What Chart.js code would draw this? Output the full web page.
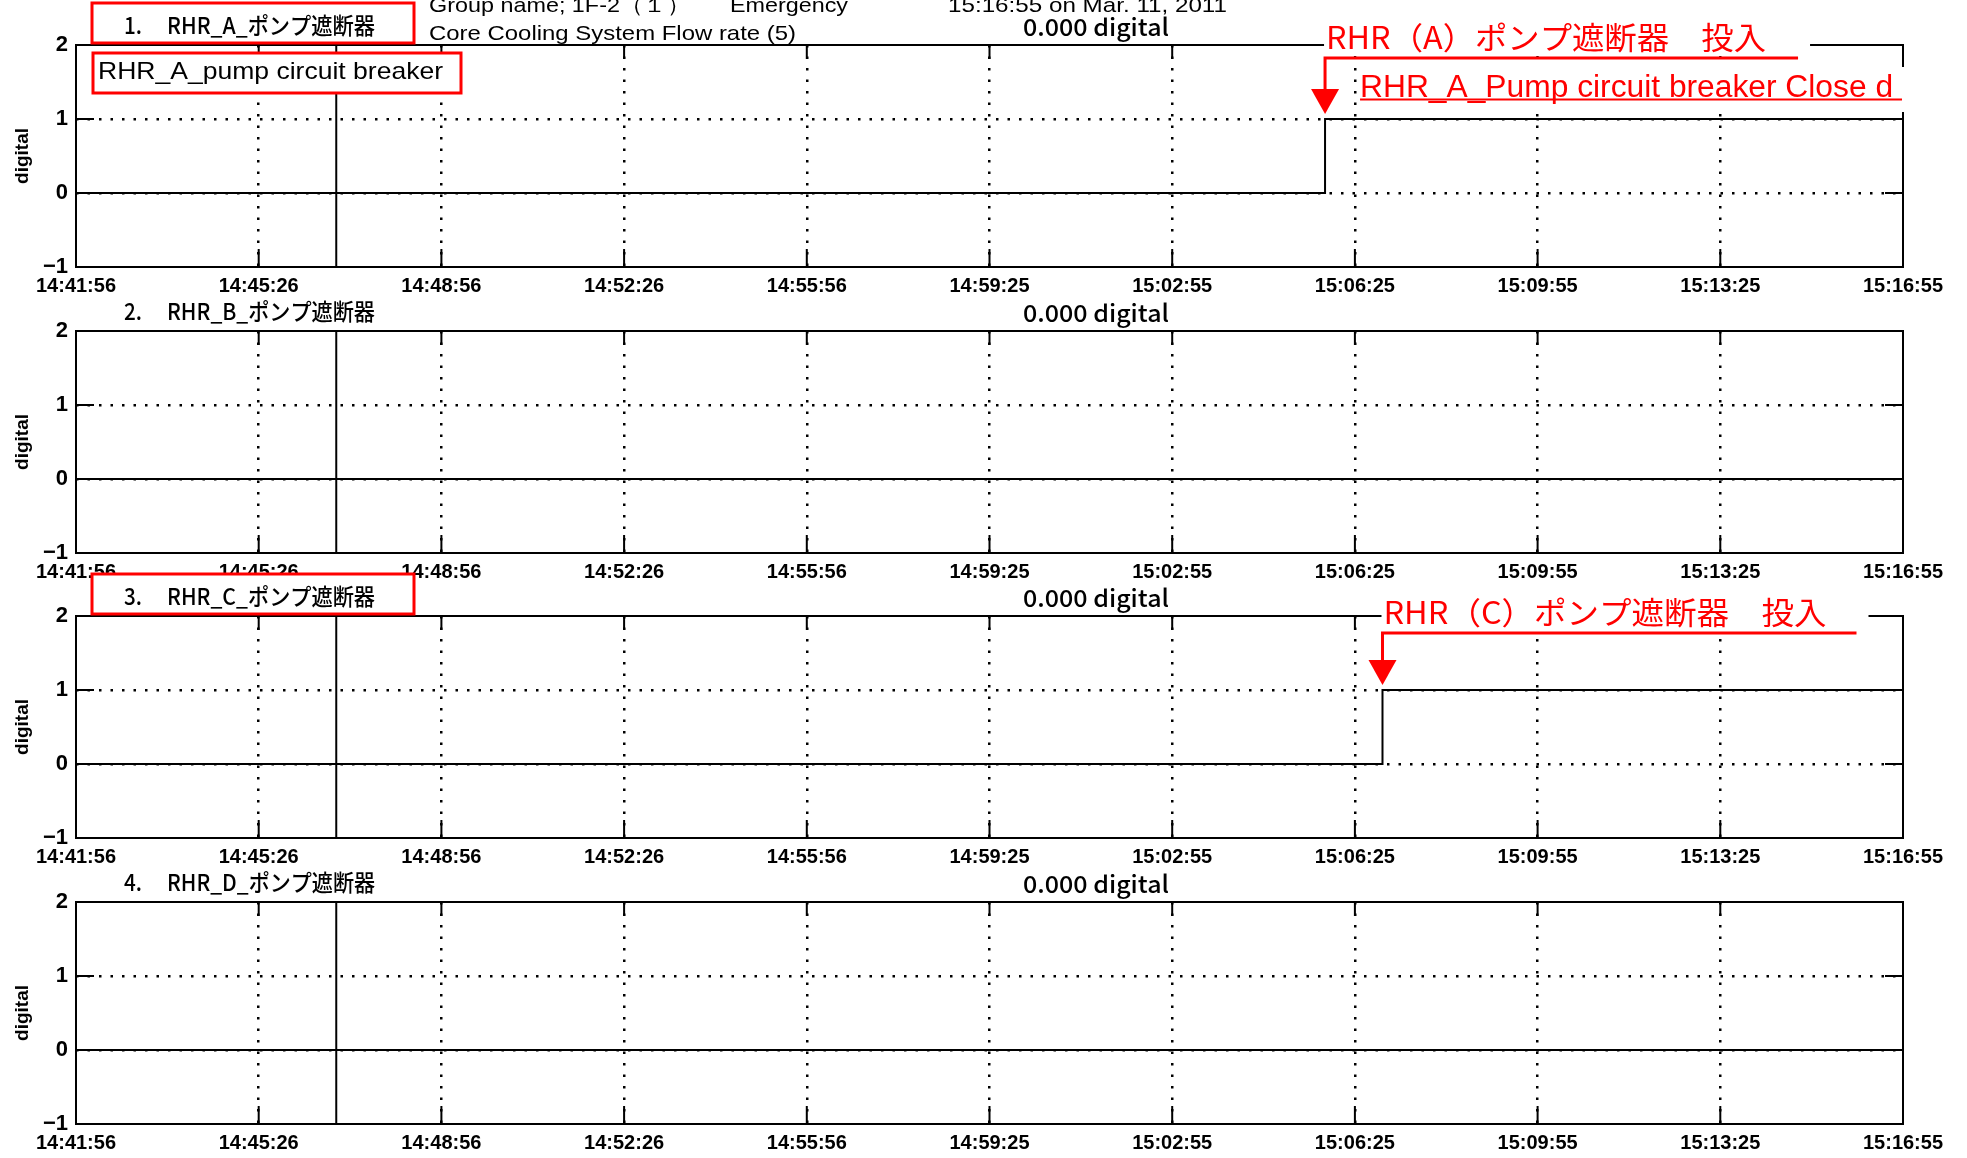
<!DOCTYPE html>
<html><head><meta charset="utf-8">
<script src="https://cdn.jsdelivr.net/npm/chart.js@4.4.1/dist/chart.umd.min.js"></script>
<style>
html,body{margin:0;padding:0;background:#fff;width:1967px;height:1158px;overflow:hidden;}
canvas{position:absolute;left:0;}
</style></head><body>
<script>
// ---------- DATA ----------
const tickLabels = ['14:41:56','14:45:26','14:48:56','14:52:26','14:55:56','14:59:25','15:02:55','15:06:25','15:09:55','15:13:25','15:16:55'];
const startTime = '14:41:56';
const endTime = '15:16:55';
const yTickValues = [-1, 0, 1, 2];
const yTickLabels = ['\u22121', '0', '1', '2'];
const yAxisTitle = 'digital';
const panelNumbers = ['1.', '2.', '3.', '4.'];
const panelTitles = ['RHR_A_ポンプ遮断器', 'RHR_B_ポンプ遮断器', 'RHR_C_ポンプ遮断器', 'RHR_D_ポンプ遮断器'];
const readoutText = '0.000 digital';
const eventTime = '14:46:55';
const rhrATimes = ['14:41:56', '15:05:51', '15:16:55'];
const rhrAValues = [0, 1, 1];
const rhrBTimes = ['14:41:56', '15:16:55'];
const rhrBValues = [0, 0];
const rhrCTimes = ['14:41:56', '15:06:57', '15:16:55'];
const rhrCValues = [0, 1, 1];
const rhrDTimes = ['14:41:56', '15:16:55'];
const rhrDValues = [0, 0];
const headerTexts = ['Group name; 1F-2（１）', 'Emergency', '15:16:55 on Mar. 11, 2011', 'Core Cooling System Flow rate (5)'];
const englishTitleA = 'RHR_A_pump circuit breaker';
const noteAJp = 'RHR（A）ポンプ遮断器　投入';
const noteAEn = 'RHR_A_Pump circuit breaker Close d';
const noteCJp = 'RHR（C）ポンプ遮断器　投入';

// ---------- helpers ----------
function secs(t){const p=t.split(':').map(Number);return p[0]*3600+p[1]*60+p[2];}
function rel(t){return secs(t)-secs(startTime);}
const total = rel(endTime);

function hasFont(name){
  const c=document.createElement('canvas').getContext('2d');
  const s='14:41:56 abcdefgWM';
  c.font='40px monospace'; const w1=c.measureText(s).width;
  c.font='40px "'+name+'", monospace'; const w2=c.measureText(s).width;
  return Math.abs(w1-w2)>0.5;
}
const narrow = hasFont('Liberation Sans Narrow');
const tickFont = narrow ? {family:'"Liberation Sans Narrow"', size:24, weight:'bold'} : {family:'"Liberation Sans", Arial', size:20, weight:'bold'};
const SANS = '"Liberation Sans", Arial, sans-serif';
const CJK = '"Noto Sans CJK JP", sans-serif';
const RED = '#ff0000';

function fitText(ctx, text, x, y, font, width, color, baseline){
  ctx.save();
  ctx.font = font; ctx.fillStyle = color; ctx.textAlign='left'; ctx.textBaseline = baseline || 'middle';
  const w = ctx.measureText(text).width;
  ctx.translate(x, y); ctx.scale(width / w, 1);
  ctx.fillText(text, 0, 0);
  ctx.restore();
}

// ---------- layout ----------
const plotTops = [45, 331, 616, 902];
const panels = [
  {times: rhrATimes, values: rhrAValues, boxed: true, header: true, english: true, note: {jp: noteAJp, en: noteAEn, jpW: 440, jpDy: -8, lineDy: 13, lineLen: 473, boxTop: -25, boxBot: 11, boxW: 486}},
  {times: rhrBTimes, values: rhrBValues},
  {times: rhrCTimes, values: rhrCValues, boxed: true, note: {jp: noteCJp, jpW: 443, jpDy: -4, lineDy: 17, lineLen: 474, boxTop: -21, boxBot: 15, boxW: 487}},
  {times: rhrDTimes, values: rhrDValues}
];

function panelPlugin(idx){
  const P = panels[idx];
  return {
    id: 'panelDeco' + idx,
    afterDraw(chart){
      const ctx = chart.ctx, a = chart.chartArea, xs = chart.scales.x, ys = chart.scales.y;
      // frame + inner ticks
      ctx.save();
      ctx.setLineDash([]); ctx.strokeStyle = '#000'; ctx.lineWidth = 2;
      ctx.strokeRect(a.left, a.top, a.right - a.left, a.bottom - a.top);
      ctx.beginPath();
      xs.ticks.forEach(t => { const x = xs.getPixelForValue(t.value);
        ctx.moveTo(x, a.top); ctx.lineTo(x, a.top + 14);
        ctx.moveTo(x, a.bottom); ctx.lineTo(x, a.bottom - 18); });
      ys.ticks.forEach(t => { const y = ys.getPixelForValue(t.value);
        ctx.moveTo(a.left, y); ctx.lineTo(a.left + 18, y);
        ctx.moveTo(a.right, y); ctx.lineTo(a.right - 18, y); });
      ctx.stroke();
      ctx.restore();

      // boxed title
      if (P.boxed){
        ctx.save(); ctx.fillStyle = '#fff'; ctx.fillRect(92, a.top - 42, 322, 40);
        ctx.strokeStyle = RED; ctx.lineWidth = 3; ctx.strokeRect(92, a.top - 42, 322, 40); ctx.restore();
      }
      fitText(ctx, panelNumbers[idx], 124, a.top - 20, '500 23px ' + CJK, 18, '#000');
      fitText(ctx, panelTitles[idx], 167, a.top - 20, '500 23px ' + CJK, 208, '#000');
      fitText(ctx, readoutText, 1023, a.top - 18, '500 24px ' + CJK, 146, '#000');

      if (P.header){
        fitText(ctx, headerTexts[0], 429, 12, '21px ' + SANS, 261, '#000', 'alphabetic');
        fitText(ctx, headerTexts[1], 730, 12, '21px ' + SANS, 118, '#000', 'alphabetic');
        fitText(ctx, headerTexts[2], 948, 12, '21px ' + SANS, 279, '#000', 'alphabetic');
        fitText(ctx, headerTexts[3], 429, 40, '21px ' + SANS, 367, '#000', 'alphabetic');
      }
      if (P.english){
        ctx.save(); ctx.fillStyle = '#fff'; ctx.fillRect(93, a.top + 8, 368, 40);
        ctx.strokeStyle = RED; ctx.lineWidth = 3; ctx.strokeRect(93, a.top + 8, 368, 40); ctx.restore();
        fitText(ctx, englishTitleA, 98, a.top + 34, '24px ' + SANS, 345, '#000', 'alphabetic');
      }
      if (P.note){
        const N = P.note;
        const sx = xs.getPixelForValue(rel(P.times[1]));
        const y1 = ys.getPixelForValue(P.values[1]);
        ctx.save();
        ctx.fillStyle = '#fff';
        ctx.fillRect(sx - 1, a.top + N.boxTop, N.boxW, N.boxBot - N.boxTop);
        if (N.en){ ctx.fillRect(sx + 32, a.top + 22, a.right + 10 - (sx + 32), 45); }
        ctx.restore();
        fitText(ctx, N.jp, sx + 1, a.top + N.jpDy, '31px ' + CJK, N.jpW, RED);
        ctx.save();
        ctx.strokeStyle = RED; ctx.fillStyle = RED; ctx.lineWidth = 3; ctx.setLineDash([]);
        const ly = a.top + N.lineDy;
        const tip = y1 - 5, triTop = tip - 25;
        ctx.beginPath(); ctx.moveTo(sx + N.lineLen, ly); ctx.lineTo(sx, ly); ctx.lineTo(sx, triTop); ctx.stroke();
        ctx.beginPath(); ctx.moveTo(sx - 14, triTop); ctx.lineTo(sx + 14, triTop); ctx.lineTo(sx, tip); ctx.closePath(); ctx.fill();
        if (N.en){
          fitText(ctx, N.en, sx + 35, a.top + 52, '31px ' + SANS, 533, RED, 'alphabetic');
          ctx.lineWidth = 2;
          ctx.beginPath(); ctx.moveTo(sx + 35, a.top + 54.5); ctx.lineTo(a.right - 1, a.top + 54.5); ctx.stroke();
        }
        ctx.restore();
      }
    }
  };
}

panels.forEach((P, idx) => {
  const cv = document.createElement('canvas');
  cv.width = 1967; cv.height = 300;
  cv.style.top = (plotTops[idx] - 45) + 'px';
  document.body.appendChild(cv);
  new Chart(cv, {
    type: 'line',
    data: { datasets: [
      { data: P.times.map((t, i) => ({x: rel(t), y: P.values[i]})), stepped: true, borderColor: '#000', borderWidth: 2, pointRadius: 0, fill: false },
      { data: [{x: rel(eventTime), y: yTickValues[0]}, {x: rel(eventTime), y: yTickValues[yTickValues.length - 1]}], borderColor: '#000', borderWidth: 2, pointRadius: 0, fill: false }
    ]},
    options: {
      responsive: false, animation: false, devicePixelRatio: 1,
      layout: { padding: { left: 0, right: 64, top: 45, bottom: 0 } },
      plugins: { legend: { display: false }, tooltip: { enabled: false } },
      scales: {
        x: {
          type: 'linear', min: 0, max: total,
          afterBuildTicks(s){ s.ticks = tickLabels.map((l, i) => ({ value: i * total / (tickLabels.length - 1) })); },
          afterFit(s){ s.height = 33; },
          ticks: { autoSkip: false, maxRotation: 0, minRotation: 0, padding: 7, color: '#000', font: tickFont, callback: (v, i) => tickLabels[i] },
          grid: { color: c => (c.index > 0 && c.index < tickLabels.length - 1) ? '#000' : 'rgba(0,0,0,0)', lineWidth: 2.5, drawTicks: false },
          border: { display: false, dash: [2.5, 9] }
        },
        y: {
          min: yTickValues[0], max: yTickValues[yTickValues.length - 1],
          afterBuildTicks(s){ s.ticks = yTickValues.map(v => ({ value: v })); },
          afterFit(s){ s.width = 76; },
          ticks: { padding: 8, color: '#000', font: {family: tickFont.family, size: tickFont.size + 2, weight: 'bold'}, callback: v => yTickLabels[yTickValues.indexOf(v)] },
          grid: { color: c => (c.tick && (c.tick.value === 0 || c.tick.value === 1)) ? '#000' : 'rgba(0,0,0,0)', lineWidth: 2.5, drawTicks: false },
          border: { display: false, dash: [2.5, 9] },
          title: { display: true, text: yAxisTitle, color: '#000', font: { family: SANS, size: 19, weight: 'bold' }, padding: { top: 11, bottom: 0 } }
        }
      }
    },
    plugins: [panelPlugin(idx)]
  });
});
</script>
</body></html>
